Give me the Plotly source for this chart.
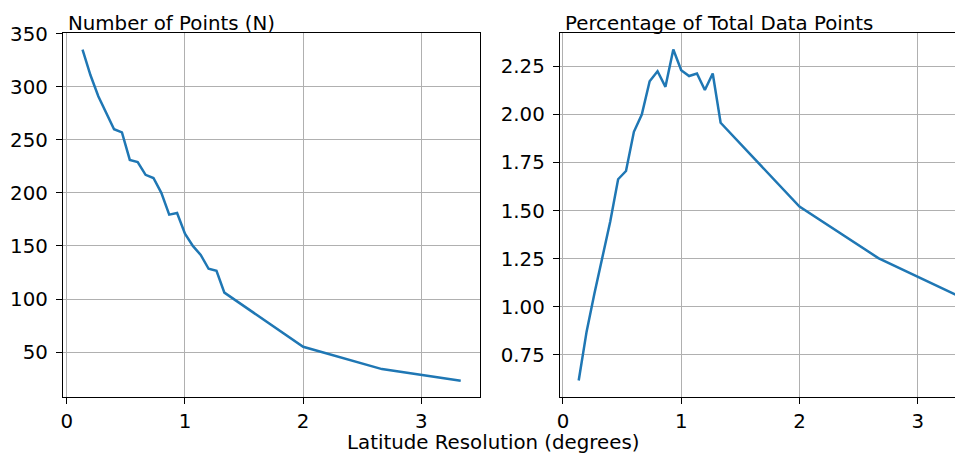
import plotly.graph_objects as go

# Data
resolution = [0.1333, 0.2, 0.2667, 0.3333, 0.4, 0.4667, 0.5333, 0.6, 0.6667, 0.7333,
              0.8, 0.8667, 0.9333, 1.0, 1.0667, 1.1333, 1.2, 1.2667, 1.3333,
              2.0, 2.6667, 3.3333]
num_points = [335, 311, 291, 275, 260, 257, 231, 229, 217, 214,
              200, 179.5, 181, 161.5, 150, 141.5, 128.5, 126.5, 106,
              55, 34, 23]
pct_points = [0.616, 0.87, 1.07, 1.265, 1.443, 1.663, 1.706, 1.91, 2.0, 2.173,
              2.225, 2.144, 2.338, 2.23, 2.2, 2.213, 2.127, 2.213, 1.957,
              1.521, 1.253, 1.059]

left_title = "Number of Points (N)"
right_title = "Percentage of Total Data Points"
x_label = "Latitude Resolution (degrees)"

# The page body has an 8px margin; the figure is sized to fill the rest of the window.
OFF = 8
W, H = 963 - OFF, 455 - OFF

def sx(p):  # screen x -> figure x
    return p - OFF

def sy(p):  # screen y -> figure y
    return p - OFF

ML = sx(63.3)
MT = sy(32.7)
MB = H - sy(396.7)
MR = 0
pw = W - ML - MR
ph = H - MT - MB

def px_to_xpaper(p):
    return (sx(p) - ML) / pw

def py_to_ypaper(p):
    return (H - MB - sy(p)) / ph

FONT = "DejaVu Sans"
FS = 19.8
LINE = "#1f77b4"
GRID = "#b0b0b0"

fig = go.Figure()
fig.add_trace(go.Scatter(x=resolution, y=num_points, mode="lines",
                         line=dict(color=LINE, width=2.5), xaxis="x", yaxis="y",
                         showlegend=False))
fig.add_trace(go.Scatter(x=resolution, y=pct_points, mode="lines",
                         line=dict(color=LINE, width=2.5), xaxis="x2", yaxis="y2",
                         showlegend=False))

axis_common = dict(showgrid=True, gridcolor=GRID, gridwidth=1.3, automargin=False,
                   ticks="outside", ticklen=6, tickwidth=1.3, tickcolor="black",
                   showline=True, linecolor="black", linewidth=1.3,
                   zeroline=False, tickfont=dict(family=FONT, size=FS, color="black"))

fig.update_layout(
    width=W, height=H,
    margin=dict(l=ML, r=MR, t=MT, b=MB, pad=0, autoexpand=False),
    plot_bgcolor="white", paper_bgcolor="white",
    font=dict(family=FONT, size=FS, color="black"),
    xaxis=dict(domain=[0, px_to_xpaper(480)], range=[-0.032, 3.495],
               tickvals=[0, 1, 2, 3], mirror=True, anchor="y", **axis_common),
    yaxis=dict(domain=[0, 1], range=[7.7, 350.6], tickvals=[50, 100, 150, 200, 250, 300, 350],
               mirror=True, anchor="x", ticklabelstandoff=4, **axis_common),
    xaxis2=dict(domain=[px_to_xpaper(560), 1], range=[-0.026, 3.383],
                tickvals=[0, 1, 2, 3], mirror=True, anchor="y2", **axis_common),
    yaxis2=dict(domain=[0, 1], range=[0.530, 2.424],
                tickvals=[0.75, 1.0, 1.25, 1.5, 1.75, 2.0, 2.25], tickformat=".2f",
                mirror=False, anchor="x2", ticklabelstandoff=4, **axis_common),
    annotations=[
        dict(text=left_title, xref="paper", yref="paper", x=px_to_xpaper(66.5), y=1,
             xanchor="left", yanchor="bottom", showarrow=False, yshift=-4,
             font=dict(family=FONT, size=FS, color="black")),
        dict(text=right_title, xref="paper", yref="paper", x=px_to_xpaper(563), y=1,
             xanchor="left", yanchor="bottom", showarrow=False, yshift=-4,
             font=dict(family=FONT, size=FS, color="black")),
        dict(text=x_label, xref="paper", yref="paper", x=px_to_xpaper(493.5),
             y=py_to_ypaper(442.5), xanchor="center", yanchor="middle", showarrow=False,
             font=dict(family=FONT, size=FS, color="black")),
    ],
)

fig.write_html("out.html")
